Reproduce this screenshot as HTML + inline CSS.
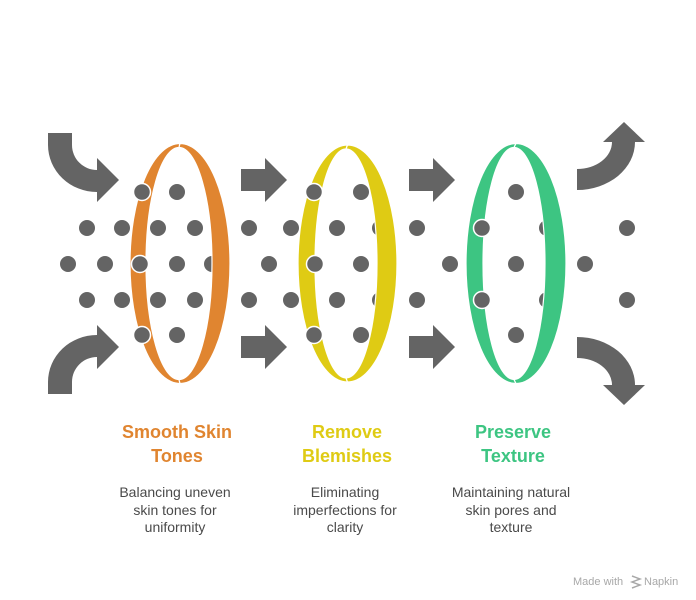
<!DOCTYPE html>
<html><head><meta charset="utf-8"><style>
html,body{margin:0;padding:0;background:#fff;}
svg{display:block;}
</style></head><body>
<svg width="696" height="600" viewBox="0 0 696 600" xmlns="http://www.w3.org/2000/svg">
<g fill="#646464">
<!-- left curved arrows -->
<path d="M48,133 H72 V145 A25,25 0 0 0 97,170 V158 L119,180 L97,202 V192 A49,47 0 0 1 48,145 Z"/>
<path d="M48,394 H72 V382 A25,25 0 0 1 97,357 V369 L119,347 L97,325 V335 A49,47 0 0 0 48,382 Z"/>
<!-- straight arrows -->
<path d="M241,169 H265 V158 L287,180 L265,202 V191 H241 Z"/>
<path d="M241,336 H265 V325 L287,347 L265,369 V358 H241 Z"/>
<path d="M409,169 H433 V158 L455,180 L433,202 V191 H409 Z"/>
<path d="M409,336 H433 V325 L455,347 L433,369 V358 H409 Z"/>
<!-- right curved arrows -->
<path d="M577,169 A35,27 0 0 0 612,142 H603 L624,122 L645,142 H635 A58,48 0 0 1 577,190 Z"/>
<path d="M577,358 A35,27 0 0 1 612,385 H603 L624,405 L645,385 H635 A58,48 0 0 0 577,337 Z"/>

<!-- plain dots -->
<circle cx="177" cy="192" r="8"/>
<circle cx="87" cy="228" r="8"/><circle cx="122" cy="228" r="8"/><circle cx="158" cy="228" r="8"/><circle cx="195" cy="228" r="8"/>
<circle cx="68" cy="264" r="8"/><circle cx="105" cy="264" r="8"/><circle cx="177" cy="264" r="8"/><circle cx="212" cy="264" r="8"/>
<circle cx="87" cy="300" r="8"/><circle cx="122" cy="300" r="8"/><circle cx="158" cy="300" r="8"/><circle cx="195" cy="300" r="8"/>
<circle cx="177" cy="335" r="8"/>

<circle cx="361" cy="192" r="8"/>
<circle cx="249" cy="228" r="8"/><circle cx="291" cy="228" r="8"/><circle cx="337" cy="228" r="8"/><circle cx="380" cy="228" r="8"/><circle cx="417" cy="228" r="8"/>
<circle cx="269" cy="264" r="8"/><circle cx="361" cy="264" r="8"/><circle cx="450" cy="264" r="8"/>
<circle cx="249" cy="300" r="8"/><circle cx="291" cy="300" r="8"/><circle cx="337" cy="300" r="8"/><circle cx="380" cy="300" r="8"/><circle cx="417" cy="300" r="8"/>
<circle cx="361" cy="335" r="8"/>

<circle cx="516" cy="192" r="8"/>
<circle cx="547" cy="228" r="8"/><circle cx="627" cy="228" r="8"/>
<circle cx="516" cy="264" r="8"/><circle cx="585" cy="264" r="8"/>
<circle cx="547" cy="300" r="8"/><circle cx="627" cy="300" r="8"/>
<circle cx="516" cy="335" r="8"/>
</g>

<!-- rings: left and right halves -->
<g stroke="#fff" stroke-width="1.2">
<path fill="#E08530" d="M180,143.5 A50,120 0 0 0 180,383.5 L179,379.5 A33,116 0 0 1 179,147.5 Z"/>
<path fill="#E08530" d="M180,143.5 A50,120 0 0 1 180,383.5 L179,379.5 A33,116 0 0 0 179,147.5 Z"/>
<path fill="#DFCB14" d="M347.5,145 A49.5,118.5 0 0 0 347.5,382 L346,378 A31,114.5 0 0 1 346,149 Z"/>
<path fill="#DFCB14" d="M347.5,145 A49.5,118.5 0 0 1 347.5,382 L346,378 A31,114.5 0 0 0 346,149 Z"/>
<path fill="#3DC582" d="M516,143.5 A50,120 0 0 0 516,383.5 L514,379.5 A31,116 0 0 1 514,147.5 Z"/>
<path fill="#3DC582" d="M516,143.5 A50,120 0 0 1 516,383.5 L514,379.5 A31,116 0 0 0 514,147.5 Z"/>
</g>

<!-- outlined dots on left bands -->
<g fill="#646464" stroke="#fff" stroke-width="1.5">
<circle cx="142" cy="192" r="8.5"/><circle cx="140" cy="264" r="8.5"/><circle cx="142" cy="335" r="8.5"/>
<circle cx="314" cy="192" r="8.5"/><circle cx="315" cy="264" r="8.5"/><circle cx="314" cy="335" r="8.5"/>
<circle cx="482" cy="228" r="8.5"/><circle cx="482" cy="300" r="8.5"/>
</g>

<!-- titles -->
<g font-family="Liberation Sans, Arial, sans-serif" font-weight="bold" font-size="18" text-anchor="middle">
<text x="177" y="438" fill="#E08530">Smooth Skin</text>
<text x="177" y="462" fill="#E08530">Tones</text>
<text x="347" y="438" fill="#DFCB14">Remove</text>
<text x="347" y="462" fill="#DFCB14">Blemishes</text>
<text x="513" y="438" fill="#3DC582">Preserve</text>
<text x="513" y="462" fill="#3DC582">Texture</text>
</g>
<g font-family="Liberation Sans, Arial, sans-serif" font-size="14" text-anchor="middle" fill="#4a4a4a">
<text x="175" y="497">Balancing uneven</text>
<text x="175" y="515">skin tones for</text>
<text x="175" y="532">uniformity</text>
<text x="345" y="497">Eliminating</text>
<text x="345" y="515">imperfections for</text>
<text x="345" y="532">clarity</text>
<text x="511" y="497">Maintaining natural</text>
<text x="511" y="515">skin pores and</text>
<text x="511" y="532">texture</text>
</g>
<!-- watermark -->
<g font-family="Liberation Sans, Arial, sans-serif" font-size="11" fill="#a8a8a8">
<text x="573" y="585">Made with</text>
<text x="644" y="585">Napkin</text>
<path d="M632,576 L640,579 L632,582 L640,585 L632,588" fill="none" stroke="#a8a8a8" stroke-width="1.5"/>
</g>
</svg>
</body></html>
